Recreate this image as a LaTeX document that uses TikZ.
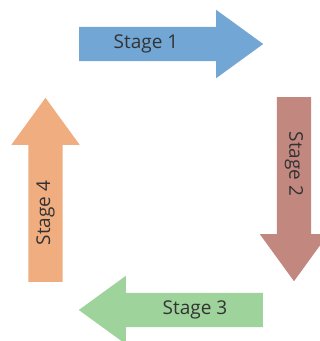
\documentclass[tikz,border=0pt]{standalone}
\usepackage{fontspec}
\setmainfont{Open Sans}
\usetikzlibrary{shapes.arrows}
\definecolor{stageblue}{RGB}{114,166,213}
\definecolor{stagebrown}{RGB}{194,136,128}
\definecolor{stagegreen}{RGB}{158,211,155}
\definecolor{stageorange}{RGB}{240,173,128}
\tikzstyle{stagearrow} = [single arrow, minimum height=184pt, inner sep=17pt, single arrow head extend=17pt, single arrow tip angle=72, text width=0pt, anchor=tail]
\tikzstyle{stagetext} = [text=black!80, font=\fontsize{19}{22}\selectfont, inner sep=0pt]

\begin{document}
\begin{tikzpicture}[x=1pt, y=-1pt]
        \useasboundingbox (0,0) rectangle (320,341);

        \node[stagearrow, fill=stageblue](a1) at (79,44) {};
        \node[stagearrow, fill=stagebrown, rotate=-90](a2) at (294,97) {};
        \node[stagearrow, fill=stagegreen, rotate=180](a3) at (263,310) {};
        \node[stagearrow, fill=stageorange, rotate=90](a4) at (45.5,282) {};

        \node[stagetext](t1) at (146,44) {Stage 1};
        \node[stagetext, rotate=-90](t2) at (294,164) {Stage 2};
        \node[stagetext](t3) at (195,310) {Stage 3};
        \node[stagetext, rotate=90](t4) at (45.5,213) {Stage 4};
    \end{tikzpicture}
\end{document}
